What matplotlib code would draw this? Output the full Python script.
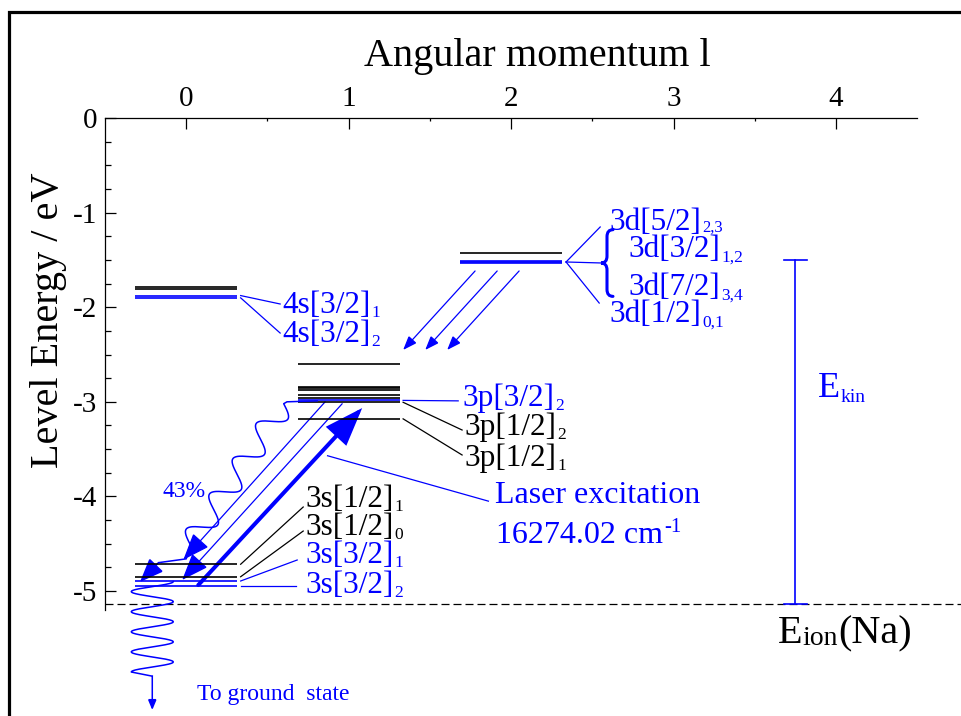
import numpy as np
import matplotlib.pyplot as plt
import matplotlib.transforms as mtransforms
from matplotlib.lines import Line2D
from matplotlib.patches import FancyArrowPatch, PathPatch
from matplotlib.path import Path

plt.rcParams['font.family'] = 'Liberation Serif'
plt.rcParams['mathtext.fontset'] = 'custom'
plt.rcParams['mathtext.rm'] = 'Liberation Serif'
plt.rcParams['mathtext.it'] = 'Liberation Serif:italic'
plt.rcParams['axes.unicode_minus'] = False

BLUE = '#0000ff'

# level energies in eV (relative to the ionisation limit), per angular momentum l
E_4s = [-1.785, -1.804, -1.877, -1.901]
c_4s = ['k', 'k', BLUE, BLUE]
E_3s = [-4.717, -4.849, -4.894, -4.946]
c_3s = ['k', 'k', BLUE, BLUE]
E_3p = [-2.60, -2.845, -2.855, -2.87, -2.93, -2.955, -2.985, -3.005, -3.18]
c_3p = ['k', 'k', 'k', 'k', 'k', 'k', BLUE, 'k', 'k']
E_3d = [-1.43, -1.515, -1.522, -1.53]
c_3d = ['k', BLUE, BLUE, BLUE]
E_ion = -5.139      # Na ionisation limit
E_kin_top = -1.50
l_kin = 3.75
half_w = 0.315      # half length of a level bar

# transitions: (l_start, E_start) -> (l_end, E_end)
laser = [(0.074, -4.937), (1.083, -3.066)]
decay_3p = [[(0.855, -3.00), (-0.018, -4.67)],
            [(0.96, -3.02), (-0.025, -4.883)]]
decay_3d = [[(1.778, -1.617), (1.335, -2.452)],
            [(1.914, -1.617), (1.471, -2.452)],
            [(2.049, -1.617), (1.606, -2.452)]]

fig = plt.figure(figsize=(9.61, 7.16), dpi=100)
ax = fig.add_axes([105 / 961, 0, 856 / 961, 598 / 716])
ax.set_xlim(-0.5, 4.769)
ax.set_ylim(-6.321, 0)

for s in ['bottom', 'right']:
    ax.spines[s].set_visible(False)
ax.spines['top'].set_bounds(-0.5, 4.5)
ax.spines['left'].set_bounds(-5.2, 0)
for s in ['top', 'left']:
    ax.spines[s].set_linewidth(0.9)

ax.xaxis.tick_top()
ax.xaxis.set_label_position('top')
ax.set_xticks([0, 1, 2, 3, 4])
ax.set_xticks([0.5, 1.5, 2.5, 3.5], minor=True)
ax.set_yticks([0, -1, -2, -3, -4, -5])
ax.set_yticks([v for v in np.arange(-5, 0.01, 0.25) if v % 1 != 0], minor=True)
ax.tick_params(axis='x', which='major', direction='in', length=8, width=0.9,
               labelsize=21, pad=4)
ax.tick_params(axis='x', which='minor', direction='in', length=2, width=0.9)
ax.tick_params(axis='y', which='major', direction='in', length=7.7, width=0.9,
               labelsize=21, pad=5.5)
ax.tick_params(axis='y', which='minor', direction='in', length=4, width=0.9)
ax.set_xlabel('Angular momentum l', fontsize=29)
ax.xaxis.set_label_coords(0.505, 1.087)
ax.set_ylabel('Level Energy / eV', fontsize=29)
ax.yaxis.set_label_coords(-0.044, 0.662)

# level bars
for l, Es, cs in [(0, E_4s, c_4s), (0, E_3s, c_3s), (1, E_3p, c_3p), (2, E_3d, c_3d)]:
    for E, c in zip(Es, cs):
        ax.plot([l - half_w, l + half_w], [E, E], color=c, lw=1.2,
                solid_capstyle='butt')

# ionisation limit
ax.plot([-0.5, 4.769], [E_ion, E_ion], color='k', lw=0.9, ls=(0, (6.4, 3.2)))


def level_label(x, y, main, sub, color, size=22.5, subsize=12.5, sub_dy=2):
    t = ax.text(x, y, main, color=color, fontsize=size, ha='left', va='baseline')
    ax.annotate(sub, xy=(1, 0), xycoords=t, xytext=(0.8, sub_dy),
                textcoords='offset points', color=color, fontsize=subsize,
                ha='left', va='baseline')
    return t


def connector(p0, p1, color):
    ax.plot([p0[0], p1[0]], [p0[1], p1[1]], color=color, lw=0.9)


def arrow(p0, p1, lw, hl, hw, color=BLUE):
    ax.add_patch(FancyArrowPatch(p0, p1, arrowstyle='-|>,head_length=%g,head_width=%g' % (hl, hw),
                                 mutation_scale=1, lw=lw, color=color,
                                 shrinkA=0, shrinkB=0, joinstyle='miter'))


def wave(p0, p1, n, amp, phase=0.0, npts=400):
    # sine wiggle between two data points, built in pixels so it stays perpendicular
    d0 = ax.transData.transform(p0)
    d1 = ax.transData.transform(p1)
    seg = d1 - d0
    normal = np.array([-seg[1], seg[0]]) / np.hypot(*seg)
    t = np.linspace(0, 1, npts)
    pts = d0 + np.outer(t, seg) + np.outer(amp * np.sin(2 * np.pi * n * t + phase), normal)
    return ax.transData.inverted().transform(pts)


# 4s labels
level_label(0.591, -2.061, '4s[3/2]', '1', BLUE)
level_label(0.591, -2.368, '4s[3/2]', '2', BLUE)
connector((0.335, E_4s[2]), (0.578, -1.966), BLUE)
connector((0.335, E_4s[3]), (0.578, -2.273), BLUE)

# 3d labels
d_start = (2 + half_w + 0.023, E_3d[2])
connector(d_start, (2.548, -1.152), BLUE)
connector(d_start, (2.566, -1.533), BLUE)
connector(d_start, (2.542, -1.956), BLUE)
level_label(2.603, -1.184, '3d[5/2]', '2,3', BLUE, subsize=12, sub_dy=4)
level_label(2.72, -1.469, '3d[3/2]', '1,2', BLUE)
level_label(2.72, -1.871, '3d[7/2]', '3,4', BLUE)
level_label(2.603, -2.156, '3d[1/2]', '0,1', BLUE)

# curly brace grouping the two inner 3d labels
w, h, r = 8.6, 24.0, 5.0
brace = Path([(w / 2, h), (0, h), (0, h - r), (0, r), (0, 0), (-w / 2, 0),
              (0, 0), (0, -r), (0, -h + r), (0, -h), (w / 2, -h)],
             [Path.MOVETO, Path.CURVE3, Path.CURVE3, Path.LINETO, Path.CURVE3,
              Path.CURVE3, Path.CURVE3, Path.CURVE3, Path.LINETO, Path.CURVE3,
              Path.CURVE3])
brace_tr = (mtransforms.Affine2D().scale(1 / 72) + fig.dpi_scale_trans
            + mtransforms.ScaledTranslation(2.59, -1.533, ax.transData))
ax.add_patch(PathPatch(brace, transform=brace_tr, fill=False, edgecolor=BLUE,
                       lw=2.2, capstyle='round'))

# 3p labels
p_x = 1 + half_w + 0.02
connector((p_x, E_3p[6]), (1.674, -2.99), BLUE)
connector((p_x, E_3p[7]), (1.698, -3.298), 'k')
connector((p_x, E_3p[8]), (1.698, -3.562), 'k')
level_label(1.698, -3.044, '3p[3/2]', '2', BLUE)
level_label(1.711, -3.351, '3p[1/2]', '2', 'k')
level_label(1.711, -3.679, '3p[1/2]', '1', 'k')

# 3s labels
s_x = half_w + 0.02
connector((s_x, E_3s[0]), (0.72, -4.112), 'k')
connector((s_x, E_3s[1]), (0.72, -4.366), 'k')
connector((s_x, E_3s[2]), (0.683, -4.672), BLUE)
connector((s_x, E_3s[3]), (0.677, -4.946), BLUE)
level_label(0.732, -4.112, '3s[1/2]', '1', 'k')
level_label(0.732, -4.408, '3s[1/2]', '0', 'k')
level_label(0.732, -4.704, '3s[3/2]', '1', BLUE)
level_label(0.732, -5.021, '3s[3/2]', '2', BLUE)

# laser excitation and radiative decays
arrow(laser[0], laser[1], lw=2.9, hl=22, hw=8)
for p0, p1 in decay_3p:
    arrow(p0, p1, lw=0.9, hl=17, hw=6.5)
for p0, p1 in decay_3d:
    arrow(p0, p1, lw=0.9, hl=8.5, hw=3.2)

connector((0.87, -3.57), (1.86, -4.05), BLUE)
ax.text(1.902, -4.07, 'Laser excitation', color=BLUE, fontsize=23, va='baseline')
t = ax.text(1.908, -4.493, '16274.02 cm', color=BLUE, fontsize=23, va='baseline')
ax.annotate('-1', xy=(1, 1), xycoords=t, xytext=(1, 2), textcoords='offset points',
            color=BLUE, fontsize=15, ha='left', va='top')

# cascade 3p -> 3s (43 %)
hook = np.array([(0.806, -2.99), (0.62, -3.0)])
casc = wave((0.60, -3.02), (0.025, -4.51), n=4, amp=12)
tail = np.array([(0.0, -4.66), (-0.17, -4.70)])
path = np.vstack([hook, casc, tail])
ax.plot(path[:, 0], path[:, 1], color=BLUE, lw=1.1)
arrow(tuple(path[-1]), (-0.285, -4.905), lw=1.1, hl=15, hw=6)
ax.text(-0.148, -4.006, '43%', color=BLUE, fontsize=17, va='baseline')

# cascade to the ground state
gnd = wave((-0.209, -4.90), (-0.209, -5.856), n=4.5, amp=21, phase=np.pi / 2)
gnd = np.vstack([gnd, [(-0.209, -5.90)]])
ax.plot(gnd[:, 0], gnd[:, 1], color=BLUE, lw=1.1)
arrow((-0.209, -5.90), (-0.209, -6.258), lw=1.1, hl=6, hw=2.5)
ax.text(0.068, -6.152, 'To ground  state', color=BLUE, fontsize=17, va='baseline')

# kinetic energy bar
ax.plot([l_kin, l_kin], [E_kin_top, E_ion], color=BLUE, lw=1.2)
for E in [E_kin_top, E_ion]:
    ax.plot([l_kin - 0.068, l_kin + 0.068], [E, E], color=BLUE, lw=1.2)
t = ax.text(3.889, -2.949, 'E', color=BLUE, fontsize=26, va='baseline')
ax.annotate('kin', xy=(1, 0), xycoords=t, xytext=(0, 2), textcoords='offset points',
            color=BLUE, fontsize=14, ha='left', va='baseline')

# ionisation label: E, subscript, then (Na) back on the main baseline
t_e = ax.text(3.643, -5.55, 'E', color='k', fontsize=29, va='baseline')
t_sub = ax.annotate('ion', xy=(1, 0), xycoords=t_e, xytext=(0, 5),
                    textcoords='offset points', color='k', fontsize=20,
                    ha='left', va='baseline')
ax.annotate('(Na)', xy=(1, 0), xycoords=(t_sub, t_e), color='k', fontsize=29,
            ha='left', va='bottom')

# outer frame
fig.add_artist(Line2D([9 / 961, 9 / 961, 1], [0, 1 - 11.5 / 716, 1 - 11.5 / 716],
                      color='k', lw=2.3, solid_joinstyle='miter'))

fig.savefig('out.png', dpi=100)
